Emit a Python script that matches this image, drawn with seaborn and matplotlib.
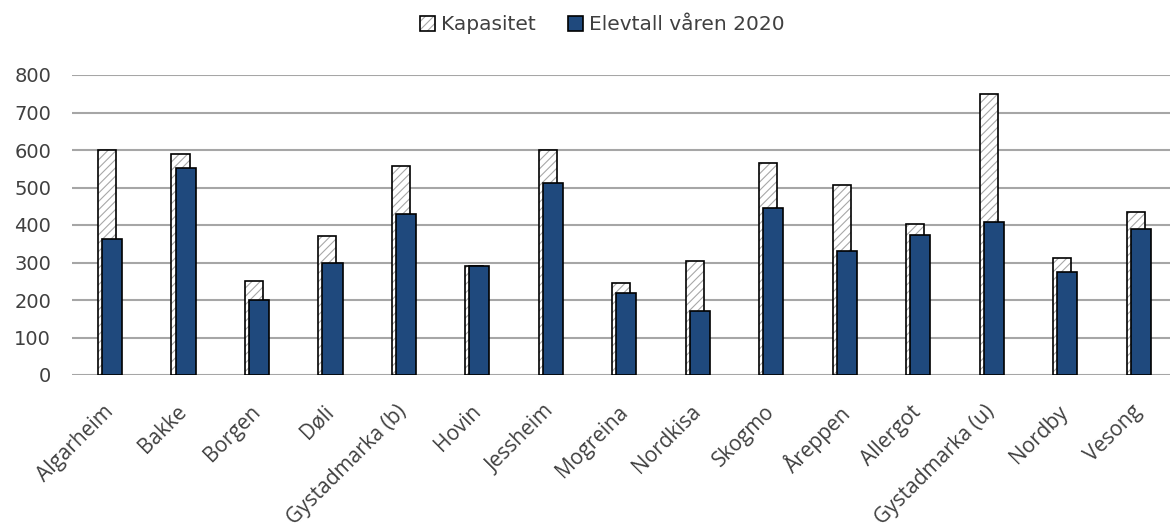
import matplotlib
matplotlib.use("Agg")
import matplotlib.pyplot as plt
import matplotlib.transforms as mtransforms
import seaborn as sns
import pandas as pd
import numpy as np

skoler = ["Algarheim", "Bakke", "Borgen", "Døli", "Gystadmarka (b)", "Hovin", "Jessheim",
          "Mogreina", "Nordkisa", "Skogmo", "Åreppen", "Allergot", "Gystadmarka (u)",
          "Nordby", "Vesong"]
kapasitet = [600, 590, 250, 372, 558, 290, 600, 245, 305, 565, 508, 404, 750, 311, 436]
elevtall = [362, 553, 200, 300, 430, 290, 512, 218, 172, 445, 331, 374, 409, 275, 390]
serier = ["Kapasitet", "Elevtall våren 2020"]
yticks = [0, 100, 200, 300, 400, 500, 600, 700, 800]

df = pd.DataFrame({
    "Skole": skoler * 2,
    "Antall": kapasitet + elevtall,
    "Serie": [serier[0]] * len(skoler) + [serier[1]] * len(skoler),
})

sns.set_theme(style="white")
plt.rcParams["hatch.linewidth"] = 0.8

fig = plt.figure(figsize=(11.7, 5.29), dpi=100)
ax = fig.add_axes([72 / 1170, 1 - 375 / 529, 1102 / 1170, 300 / 529])

sns.barplot(data=df, x="Skole", y="Antall", hue="Serie", hue_order=serier,
            palette=["white", "#1F497D"], saturation=1, dodge=True, legend=False,
            edgecolor="black", linewidth=1.2, ax=ax, order=skoler)

specs = [(-0.023, 0.246), (0.046, 0.273)]
hatch_gray = matplotlib.colors.to_rgba("#a8a8a8")
for k, cont in enumerate(ax.containers[:2]):
    off, w = specs[k]
    for p in cont.patches:
        cx = p.get_x() + p.get_width() / 2
        i = int(round(cx))
        p.set_x(i + off - w / 2)
        p.set_width(w)
        if k == 0:
            p.set_hatch("////")
            p._hatch_color = hatch_gray
        p.set_zorder(3 + k)

ax.set_xlim(-0.5, len(skoler) - 0.5)
ax.set_ylim(0, 800)
ax.set_yticks(yticks)
ax.set_yticklabels([str(v) for v in yticks], fontsize=14, color="#404040",
                   family="DejaVu Sans")
ax.yaxis.grid(True, color="#a6a6a6", linewidth=1.5)
ax.set_axisbelow(True)
for s in ["top", "right", "left", "bottom"]:
    ax.spines[s].set_visible(False)
ax.tick_params(axis="both", length=0)
ax.tick_params(axis="y", pad=15)
ax.tick_params(axis="x", pad=19)
ax.set_xlabel("")
ax.set_ylabel("")
ax.set_xticks(range(len(skoler)))
ax.set_xticklabels(skoler, rotation=45, ha="right", rotation_mode="anchor",
                   fontsize=15, color="#404040", family="Open Sans")
shift = mtransforms.ScaledTranslation(-0.06, 0, fig.dpi_scale_trans)
for lbl in ax.get_xticklabels():
    lbl.set_transform(lbl.get_transform() + shift)

handles = [ax.containers[0].patches[0], ax.containers[1].patches[0]]
fig.legend(handles=handles, labels=serier, loc="center", bbox_to_anchor=(0.515, 0.953),
           ncol=2, frameon=False, handlelength=0.75, handleheight=0.75,
           handletextpad=0.3, columnspacing=1.6,
           prop={"family": "DejaVu Sans", "size": 14.5})
for t in fig.legends[0].get_texts():
    t.set_color("#404040")

fig.savefig("out.png", dpi=100)
